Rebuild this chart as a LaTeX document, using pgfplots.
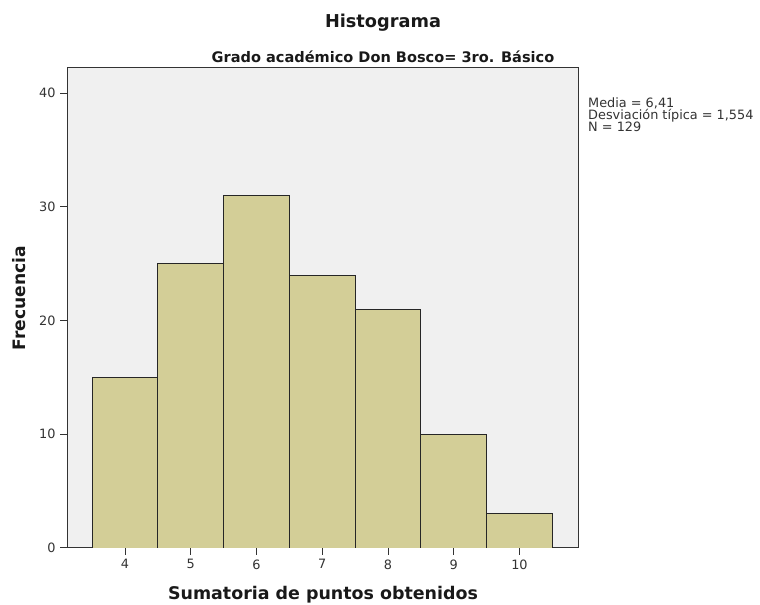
\documentclass[border=0pt]{standalone}
\usepackage{pgfplots}
\pgfplotsset{compat=1.18}
\usepackage{fontspec}
\setmainfont{DejaVu Sans}
\definecolor{barfill}{HTML}{D3CE97}
\definecolor{bgc}{HTML}{F0F0F0}
\definecolor{txt}{HTML}{333333}
\begin{document}
\begin{tikzpicture}[x=1bp,y=1bp]
\useasboundingbox (0,0) rectangle (760,605);
\begin{axis}[at={(67bp,57bp)}, anchor=south west, scale only axis,
  width=511bp, height=480bp,
  xmin=3.117, xmax=10.89, ymin=0, ymax=42.2,
  xtick={4,5,6,7,8,9,10}, ytick={0,10,20,30,40},
  tick align=outside, tick pos=left, major tick length=7bp,
  axis background/.style={fill=bgc},
  axis line style={draw=black!80, line width=1bp},
  tick style={draw=black!80, line width=1bp},
  ticklabel style={font=\fontsize{12.9}{12.9}\selectfont, text=txt},
  /pgf/number format/assume math mode=true,
  xticklabel style={yshift=-1bp},
  yticklabel style={xshift=-1bp},
]
\addplot[ybar interval, fill=barfill, draw=black!85, line width=0.9bp]
  coordinates {(3.5,15) (4.5,25) (5.5,31) (6.5,24) (7.5,21) (8.5,10) (9.5,3) (10.5,3)};
\end{axis}
\node[anchor=base, font=\fontsize{17.8}{17.8}\selectfont\bfseries, text=black!90] at (383,577) {Histograma};
\node[anchor=base, font=\fontsize{14.6}{14.6}\selectfont\bfseries, text=black!90] at (383,542) {Grado académico Don Bosco= 3ro. Básico};
\node[anchor=base, font=\fontsize{17.5}{17.5}\selectfont\bfseries, text=black!90] at (323,5) {Sumatoria de puntos obtenidos};
\node[anchor=base, rotate=90, font=\fontsize{17.2}{17.2}\selectfont\bfseries, text=black!90] at (25,307) {Frecuencia};
\node[anchor=base west, align=left, inner sep=0pt, font=\fontsize{12.9}{12.5}\selectfont, text=txt] at (588,473) {Media = 6,41\\Desviación típica = 1,554\\N = 129};
\end{tikzpicture}
\end{document}
